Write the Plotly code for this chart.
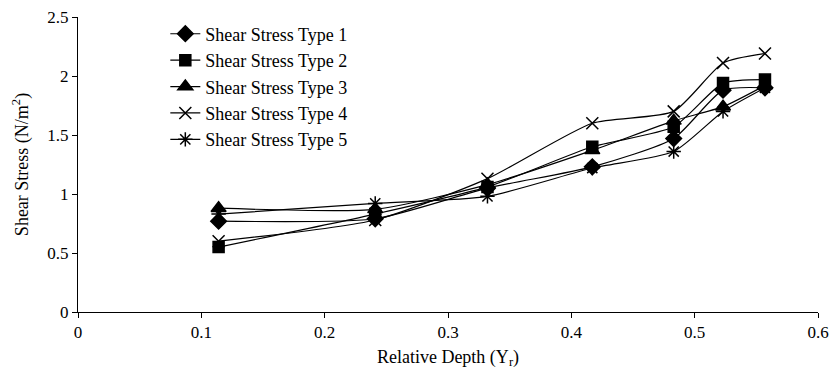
import plotly.graph_objects as go

depth = [0.114, 0.241, 0.332, 0.417, 0.483, 0.523, 0.557]
type1 = [0.77, 0.79, 1.05, 1.23, 1.47, 1.88, 1.90]
type2 = [0.55, 0.83, 1.06, 1.40, 1.57, 1.94, 1.97]
type3 = [0.88, 0.87, 1.08, 1.37, 1.62, 1.74, 1.92]
type4 = [0.60, 0.78, 1.13, 1.60, 1.70, 2.11, 2.19]
type5 = [0.83, 0.92, 0.98, 1.22, 1.36, 1.70, 1.90]

names = ["Shear Stress Type 1", "Shear Stress Type 2", "Shear Stress Type 3",
         "Shear Stress Type 4", "Shear Stress Type 5"]
series = [type1, type2, type3, type4, type5]
symbols = ["diamond", "square", "triangle-up", "x-thin-open", "asterisk-open"]
sizes = [12, 11, 13, 12, 12]

fig = go.Figure()
for n, s, sym, sz in zip(names, series, symbols, sizes):
    fig.add_trace(go.Scatter(
        x=depth, y=s, name=n, mode="lines+markers",
        line=dict(color="black", width=1.2, shape="spline", smoothing=0.6),
        marker=dict(symbol=sym, size=sz, color="black",
                    line=dict(color="black", width=1.5)),
    ))

font = "Times New Roman, Liberation Serif, serif"
fig.update_layout(
    width=832, height=376,
    margin=dict(l=78, r=14, t=17, b=64),
    paper_bgcolor="white", plot_bgcolor="white",
    font=dict(family=font, size=17, color="black"),
    showlegend=True,
    legend=dict(x=0.118, y=1.005, xanchor="left", yanchor="top",
                font=dict(family=font, size=18, color="black"),
                bgcolor="rgba(0,0,0,0)", tracegroupgap=0),
    xaxis=dict(range=[0, 0.6], tickvals=[0, 0.1, 0.2, 0.3, 0.4, 0.5, 0.6],
               ticktext=["0", "0.1", "0.2", "0.3", "0.4", "0.5", "0.6"],
               showline=True, linecolor="black", linewidth=1,
               ticks="outside", ticklen=5, tickcolor="black",
               showgrid=False, zeroline=False, automargin=False,
               title=dict(text="Relative Depth (Y<sub>r</sub>)", standoff=8,
                          font=dict(size=18))),
    yaxis=dict(range=[0, 2.5], tickvals=[0, 0.5, 1, 1.5, 2, 2.5],
               ticktext=["0", "0.5", "1", "1.5", "2", "2.5"],
               showline=True, linecolor="black", linewidth=1,
               ticks="outside", ticklen=5, tickcolor="black",
               showgrid=False, zeroline=False, automargin=False,
               title=dict(text="Shear Stress (N/m<sup>2</sup>)", standoff=14,
                          font=dict(size=18))),
)

fig.write_html("out.html")
